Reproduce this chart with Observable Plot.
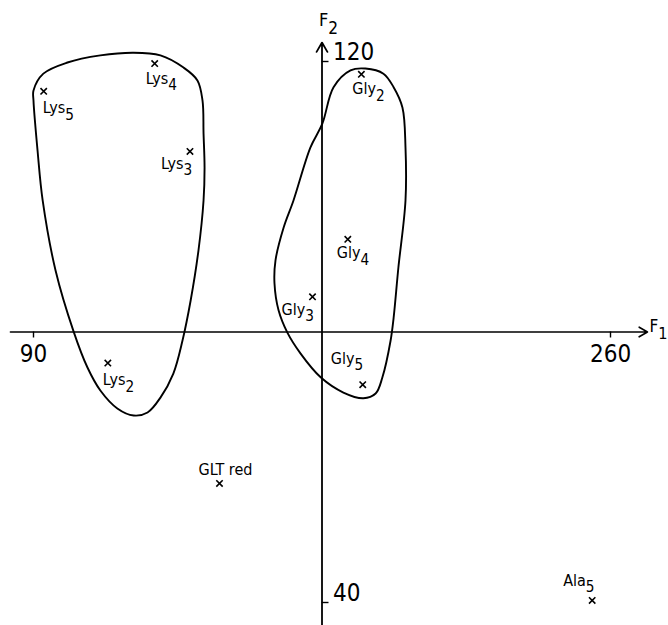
<!DOCTYPE html>
<html><head><meta charset="utf-8">
<script src="https://cdn.jsdelivr.net/npm/d3@7"></script>
<script src="https://cdn.jsdelivr.net/npm/@observablehq/plot@0.6"></script>
<style>
body{margin:0;background:#fff;}
#chart svg{display:block;}
</style>
</head><body><div id="chart"></div>
<script>
// ---- data ----
const names = ["Lys","Lys","Lys","Lys","Gly","Gly","Gly","Gly","GLT red","Ala"];
const subs  = ["5","4","3","2","2","4","3","5","","5"];
const f1    = [93.0,125.7,136.1,111.9,186.6,182.6,172.2,187.0,144.8,254.6];
const f2    = [115.6,119.7,106.7,75.4,118.1,93.7,85.2,72.2,57.6,40.3];

const xTicks = [90,260];
const yTicks = [120,40];
const axisCross = [175,80];          // F1 value of vertical axis, F2 value of horizontal axis
const f1AxisRange = [83.2,270.9];
const f2AxisRange = [36,122.8];

// outline of the Lys group
const lysF1 = [90.0,92.9,100.0,109.7,119.5,127.4,134.2,138.3,139.8,140.1,140.4,140.1,138.6,136.3,133.9,131.2,127.4,123.6,119.5,114.7,109.7,105.9,101.8,96.5,92.7,91.2,90.0];
const lysF2 = [115.7,118.2,119.85,120.9,121.3,120.9,119.1,117.2,114.2,109.35,104.3,99.45,92.05,84.66,78.74,73.86,70.3,68.1,67.65,68.7,71.35,74.75,80.1,89.1,99.45,106.8,114.2];
// outline of the Gly group
const glyF1 = [187.8,193.1,196.1,198.7,199.6,199.6,197.5,196.1,195.2,192.8,190.8,187.2,181.3,174.6,168.7,164.8,162.2,161.0,161.3,163.7,166.6,171.6,175.1,178.4,183.4];
const glyF2 = [118.96,118.2,116.2,113.2,107.3,99.45,89.5,82.1,78.7,73.3,70.9,70.2,71.05,73.3,76.8,79.9,83.2,87.2,90.6,95.45,99.45,107.3,110.8,116.2,118.7];

// ---- label placement (pixels): dx, dy, anchor ----
const labelPlace = [
  [-1,17,"start"],[-9,15,"start"],[-29,12,"start"],[-5,17,"start"],
  [-9,15,"start"],[-11,14,"start"],[-31,13,"start"],[-32,-26,"start"],
  [-21,-14,"start"],[-29,-20,"start"]
];

const FONT = "'Liberation Sans Narrow','DejaVu Sans Condensed','Liberation Sans',sans-serif";

function subscriptRender(index, scales, values, dimensions, context, next) {
  const g = next(index, scales, values, dimensions, context);
  g.querySelectorAll("text").forEach(t => {
    const s = t.textContent; const k = s.indexOf("_");
    if (k < 0) return;
    t.textContent = s.slice(0, k);
    const ts = document.createElementNS("http://www.w3.org/2000/svg", "tspan");
    ts.setAttribute("dy", "0.42em");
    ts.setAttribute("font-size", "0.95em");
    ts.textContent = s.slice(k + 1);
    t.appendChild(ts);
  });
  return g;
}

const idx = d3.range(names.length);
const lysIdx = d3.range(lysF1.length);
const glyIdx = d3.range(glyF1.length);

const labelMarks = idx.map(i => Plot.text([i], {
  x: j => f1[j], y: j => f2[j],
  text: j => names[j] + (subs[j] ? "_" + subs[j] : ""),
  dx: labelPlace[i][0], dy: labelPlace[i][1], textAnchor: labelPlace[i][2],
  fontSize: 16, fill: "black", render: subscriptRender
}));

const plot = Plot.plot({
  width: 668, height: 625,
  marginLeft: 33, marginRight: 58, marginTop: 61, marginBottom: 23,
  x: {domain: [xTicks[0], xTicks[1]], axis: null},
  y: {domain: [yTicks[1], yTicks[0]], axis: null},
  style: {fontFamily: FONT, background: "white", color: "black"},
  marks: [
    // axes
    Plot.arrow([0], {x1: () => f1AxisRange[0], x2: () => f1AxisRange[1], y1: () => axisCross[1], y2: () => axisCross[1], stroke: "black", strokeWidth: 1.6, headLength: 9}),
    Plot.arrow([0], {x1: () => axisCross[0], x2: () => axisCross[0], y1: () => f2AxisRange[0], y2: () => f2AxisRange[1], stroke: "black", strokeWidth: 1.8, headLength: 9}),
    Plot.ruleX(xTicks, {x: d => d, y1: () => axisCross[1], y2: () => axisCross[1], insetBottom: -6, stroke: "black", strokeWidth: 1.4}),
    Plot.ruleY(yTicks, {y: d => d, x1: () => axisCross[0], x2: () => axisCross[0], insetRight: -7, stroke: "black", strokeWidth: 1.4}),
    Plot.text(xTicks, {x: d => d, y: () => axisCross[1], text: d => String(d), dy: 22, fontSize: 24, fill: "black"}),
    Plot.text(yTicks, {x: () => axisCross[0], y: d => d, text: d => String(d), dx: 11, dy: -9, textAnchor: "start", fontSize: 24, fill: "black"}),
    Plot.text(["F_1"], {x: () => f1AxisRange[1], y: () => axisCross[1], text: d => d, dx: 20, dy: -5, textAnchor: "end", fontSize: 17, fill: "black", render: subscriptRender}),
    Plot.text(["F_2"], {x: () => axisCross[0], y: () => f2AxisRange[1], text: d => d, dx: -3, dy: -22, textAnchor: "start", fontSize: 18, fill: "black", render: subscriptRender}),
    // group outlines
    Plot.line(lysIdx, {x: i => lysF1[i], y: i => lysF2[i], curve: "catmull-rom-closed", stroke: "black", strokeWidth: 1.9}),
    Plot.line(glyIdx, {x: i => glyF1[i], y: i => glyF2[i], curve: "catmull-rom-closed", stroke: "black", strokeWidth: 1.9}),
    // points
    Plot.dot(idx, {x: i => f1[i], y: i => f2[i], symbol: "times", r: 3, stroke: "black", strokeWidth: 1.6}),
    ...labelMarks
  ]
});
document.getElementById("chart").appendChild(plot);
</script>
</body></html>
